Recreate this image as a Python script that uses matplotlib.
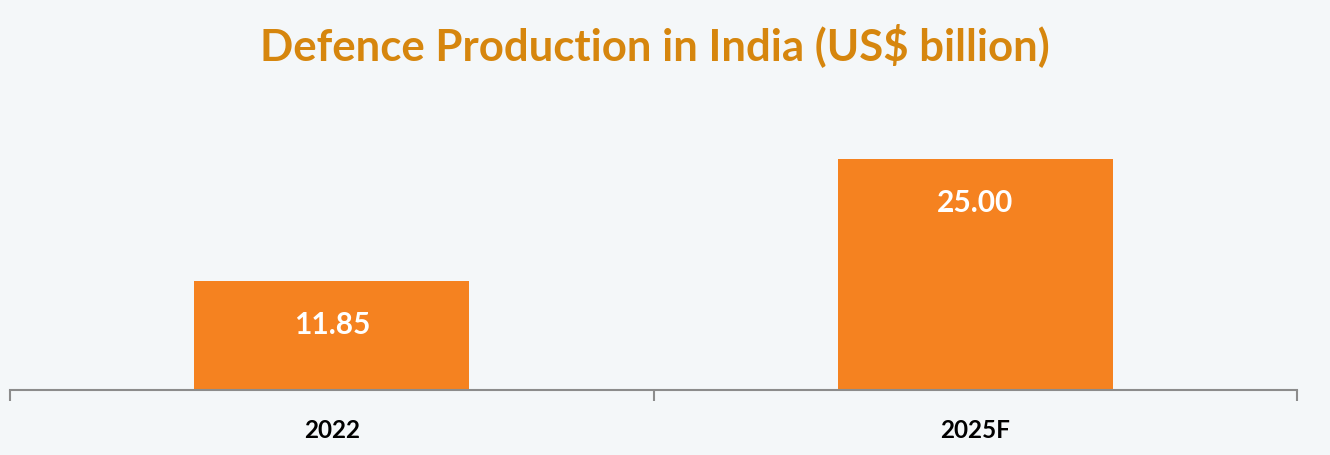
import matplotlib.pyplot as plt

years = ['2022', '2025F']
values = [11.85, 25.00]

bg = '#F4F7F9'
bar_color = '#F58220'
title_color = '#D6860E'

fig = plt.figure(figsize=(13.3, 4.55), dpi=100, facecolor=bg)
ax = fig.add_axes([10 / 1330, 65 / 455, 1287 / 1330, 277.2 / 455])
ax.set_facecolor(bg)

bars = ax.bar(years, values, width=0.427, color=bar_color, zorder=2)
ax.set_xlim(-0.5, 1.5)
ax.set_ylim(0, 30)

# value labels inside the bars, a fixed distance under the top
for b, v in zip(bars, values):
    ax.annotate(f'{v:.2f}', (b.get_x() + b.get_width() / 2, v),
                xytext=(0, -44), textcoords='offset pixels',
                ha='center', va='center', color='white',
                fontsize=21.5, fontweight='bold', family='Lato')

for s in ['top', 'right', 'left']:
    ax.spines[s].set_visible(False)
ax.spines['bottom'].set_color('#8C8C8C')
ax.spines['bottom'].set_linewidth(1.5)
ax.set_yticks([])

# category boundary ticks
ax.set_xticks([-0.5, 0.5, 1.5], minor=False)
ax.set_xticklabels([])
ax.tick_params(axis='x', which='major', length=8, width=1.5, color='#8C8C8C')
ax.set_xticks([0, 1], minor=True)
ax.set_xticklabels(years, minor=True, fontsize=17.5, fontweight='bold', family='Lato')
ax.tick_params(axis='x', which='minor', length=0, pad=21)

fig.text(0.4925, 1 - 60 / 455, 'Defence Production in India (US$ billion)',
         ha='center', va='baseline', color=title_color, fontsize=31.5,
         fontweight='bold', family='Lato')

fig.savefig('out.png', dpi=100, facecolor=bg)
